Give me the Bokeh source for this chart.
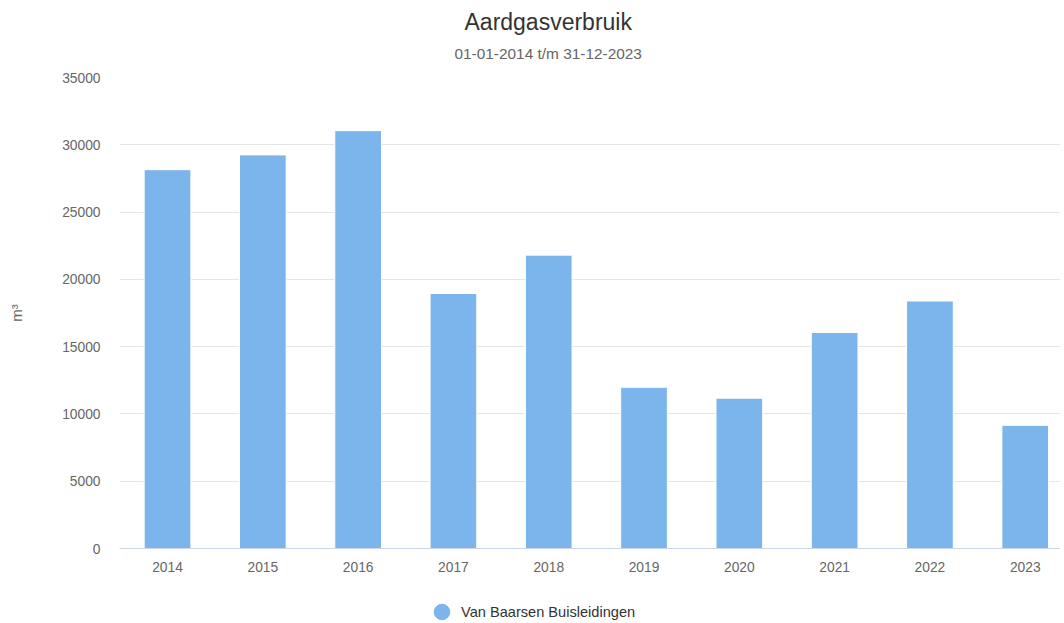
from bokeh.plotting import figure
from bokeh.layouts import column
from bokeh.models import (ColumnDataSource, FixedTicker, NumeralTickFormatter, Range1d,
                          Title, Legend, LegendItem)
from bokeh.embed import file_html
from bokeh.resources import INLINE

years = ["2014", "2015", "2016", "2017", "2018", "2019", "2020", "2021", "2022", "2023"]
values = [28150, 29250, 31050, 18950, 21800, 11980, 11170, 16050, 18390, 9150]
y_ticks = [0, 5000, 10000, 15000, 20000, 25000, 30000, 35000]
series_name = "Van Baarsen Buisleidingen"
title_text = "Aardgasverbruik"
subtitle_text = "01-01-2014 t/m 31-12-2023"
y_label = "m³"

FONT = "Liberation Sans"
TICK_FS = "13.8px"
idx = list(range(len(years)))
src = ColumnDataSource(dict(x=idx, top=values))

p = figure(width=1060, height=574, output_backend="svg", toolbar_location=None,
           x_range=Range1d(-0.504, 9.37), y_range=Range1d(0, 35000),
           min_border_left=119, min_border_right=0, min_border_top=10, min_border_bottom=10)
p.title = None
p.outline_line_color = None
p.background_fill_color = "white"
p.border_fill_color = "white"

bars = p.vbar(x="x", top="top", width=0.49, source=src, fill_color="#7cb5ec",
              line_color="white", line_width=1)

# Titles (spacer nearest the frame, then subtitle, then title)
spacer = Title(text=" ", text_font=FONT, text_font_size="1px", standoff=10)
sub = Title(text=subtitle_text, align="left", text_font=FONT, text_font_size="15.4px",
            text_color="#666666", text_font_style="normal", standoff=5, offset=335)
tit = Title(text=title_text, align="left", text_font=FONT, text_font_size="23px",
            text_color="#333333", text_font_style="normal", standoff=12, offset=345)
p.add_layout(spacer, "above")
p.add_layout(sub, "above")
p.add_layout(tit, "above")

# Axes
p.xaxis.ticker = FixedTicker(ticks=idx)
p.xaxis.major_label_overrides = {i: y for i, y in zip(idx, years)}
p.xaxis.axis_line_color = "#ccd6eb"
p.xaxis.major_tick_line_color = None
p.xaxis.minor_tick_line_color = None
p.xaxis.major_tick_out = 0
p.xaxis.major_tick_in = 0
p.xaxis.major_label_standoff = 13
p.xaxis.major_label_text_font = FONT
p.xaxis.major_label_text_font_size = TICK_FS
p.xaxis.major_label_text_color = "#666666"

p.yaxis.ticker = FixedTicker(ticks=y_ticks)
p.yaxis.formatter = NumeralTickFormatter(format="0")
p.yaxis.axis_line_color = None
p.yaxis.major_tick_line_color = None
p.yaxis.minor_tick_line_color = None
p.yaxis.major_tick_out = 0
p.yaxis.major_tick_in = 0
p.yaxis.major_label_standoff = 19
p.yaxis.major_label_text_font = FONT
p.yaxis.major_label_text_font_size = TICK_FS
p.yaxis.major_label_text_color = "#666666"
p.yaxis.axis_label = y_label
p.yaxis.axis_label_text_font = FONT
p.yaxis.axis_label_text_font_size = "15px"
p.yaxis.axis_label_text_color = "#666666"
p.yaxis.axis_label_text_font_style = "normal"
p.yaxis.axis_label_standoff = 34

p.xgrid.grid_line_color = None
p.ygrid.grid_line_color = "#e6e6e6"

# Legend in a small companion figure
lf = figure(width=1060, height=47, output_backend="svg", toolbar_location=None,
            x_range=Range1d(0, 1), y_range=Range1d(0, 1),
            min_border_left=0, min_border_right=0, min_border_top=0, min_border_bottom=0)
lf.axis.visible = False
lf.grid.grid_line_color = None
lf.outline_line_color = None
nan = float("nan")
dummy = lf.scatter(x=[nan], y=[nan], marker="circle", size=15,
                   fill_color="#7cb5ec", line_color="#7cb5ec")
legend = Legend(items=[LegendItem(label=series_name, renderers=[dummy])],
                location=(303, -10), orientation="horizontal",
                label_text_font=FONT, label_text_font_size="14.6px", label_text_color="#333333",
                border_line_color=None, background_fill_alpha=0, margin=0, padding=0,
                glyph_width=39, glyph_height=39, label_standoff=0, label_height=16)
lf.add_layout(legend)

layout = column(p, lf, spacing=0)
open("out.html", "w").write(file_html(layout, INLINE))
